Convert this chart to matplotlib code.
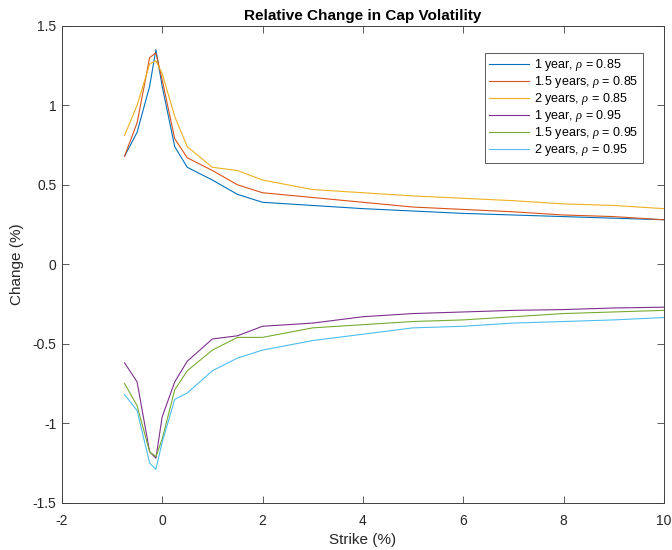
import matplotlib
matplotlib.use("Agg")
import matplotlib.pyplot as plt

plt.rcParams['font.family'] = ['Liberation Sans', 'DejaVu Sans']
plt.rcParams['mathtext.fontset'] = 'custom'
plt.rcParams['mathtext.it'] = 'Liberation Serif:italic'
plt.rcParams['axes.unicode_minus'] = False

# strike grid (%)
strike = [-0.75, -0.5, -0.25, -0.125, 0, 0.25, 0.5, 1, 1.5, 2, 3, 4, 5, 6, 7, 8, 9, 10]

# relative change in cap volatility (%)
y1_085 = [0.68, 0.83, 1.12, 1.35, 1.12, 0.74, 0.61, 0.53, 0.44, 0.39, 0.37, 0.35, 0.335, 0.32, 0.31, 0.30, 0.29, 0.28]
y15_085 = [0.68, 0.89, 1.30, 1.33, 1.16, 0.79, 0.67, 0.59, 0.50, 0.45, 0.42, 0.39, 0.36, 0.345, 0.33, 0.31, 0.30, 0.28]
y2_085 = [0.81, 1.00, 1.26, 1.28, 1.20, 0.93, 0.74, 0.61, 0.59, 0.53, 0.47, 0.45, 0.43, 0.415, 0.40, 0.38, 0.37, 0.35]
y1_095 = [-0.62, -0.74, -1.18, -1.22, -0.96, -0.74, -0.61, -0.47, -0.45, -0.39, -0.37, -0.33, -0.31, -0.30, -0.29, -0.285, -0.275, -0.27]
y15_095 = [-0.75, -0.89, -1.18, -1.21, -1.10, -0.79, -0.67, -0.54, -0.46, -0.46, -0.40, -0.38, -0.36, -0.35, -0.33, -0.31, -0.30, -0.29]
y2_095 = [-0.82, -0.92, -1.25, -1.29, -1.12, -0.85, -0.81, -0.67, -0.59, -0.54, -0.48, -0.44, -0.40, -0.39, -0.37, -0.36, -0.35, -0.335]

series = [y1_085, y15_085, y2_085, y1_095, y15_095, y2_095]
labels = [r'1 year, $\rho$ = 0.85', r'1.5 years, $\rho$ = 0.85', r'2 years, $\rho$ = 0.85',
          r'1 year, $\rho$ = 0.95', r'1.5 years, $\rho$ = 0.95', r'2 years, $\rho$ = 0.95']
colors = ['#0072BD', '#D95319', '#EDB120', '#7E2F8E', '#77AC30', '#4DBEEE']

fig = plt.figure(figsize=(6.72, 5.5), dpi=100)
ax = fig.add_axes([0.092, 0.086, 0.896, 0.867])

for ys, lab, c in zip(series, labels, colors):
    ax.plot(strike, ys, color=c, lw=0.8, label=lab)

ax.set_xlim(-2, 10)
ax.set_ylim(-1.5, 1.5)
ax.set_xticks([-2, 0, 2, 4, 6, 8, 10])
ax.set_yticks([-1.5, -1, -0.5, 0, 0.5, 1, 1.5])
ax.set_yticklabels(['-1.5', '-1', '-0.5', '0', '0.5', '1', '1.5'])
ax.tick_params(direction='in', top=True, right=True, length=5, width=0.6,
               colors='#404040', labelsize=10, labelcolor='#262626')
ax.tick_params(axis='x', pad=8)
ax.tick_params(axis='y', pad=4)
for s in ax.spines.values():
    s.set_color('#404040')
    s.set_linewidth(0.7)

ax.set_title('Relative Change in Cap Volatility', fontsize=11, fontweight='bold', pad=4)
ax.set_xlabel('Strike (%)', fontsize=11, color='#262626', labelpad=4)
ax.set_ylabel('Change (%)', fontsize=11, color='#262626', labelpad=6)

leg = ax.legend(loc='upper right', bbox_to_anchor=(0.965, 0.943), fontsize=9,
                frameon=True, fancybox=False, edgecolor='#404040', framealpha=1,
                handlelength=3.2, handletextpad=0.4, labelspacing=0.08,
                borderpad=0.35, borderaxespad=0)
leg.get_frame().set_linewidth(0.6)

fig.savefig('out.png', dpi=100)
